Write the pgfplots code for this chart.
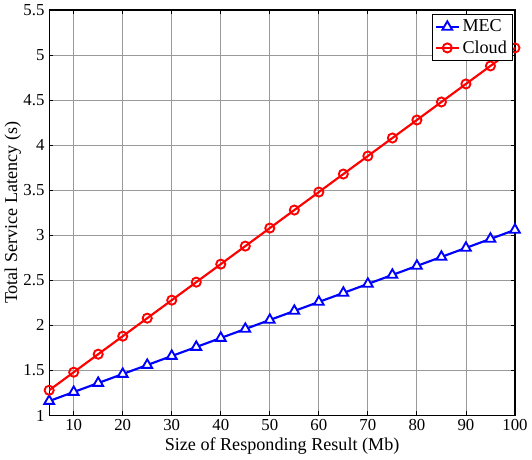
\documentclass[border=0pt]{standalone}
\usepackage{fontspec}
\setmainfont{Liberation Serif}
\usepackage{pgfplots}
\pgfplotsset{compat=1.18}

\begin{document}
\begin{tikzpicture}
\begin{axis}[
  scale only axis,
  width=347pt, height=302pt,
  xmin=5, xmax=100, ymin=1, ymax=5.5,
  xtick={10,20,...,100},
  ytick={1,1.5,...,5.5},
  yticklabels={1,1.5,2,2.5,3,3.5,4,4.5,5,5.5},
  grid=major, grid style={gray!80, line width=0.6pt},
  axis line style={line width=0.9pt},
  tick style={black, line width=0.6pt},
  tick align=inside, major tick length=3pt,
  xtick pos=both, ytick pos=both,
  /pgf/number format/assume math mode=true,
  tick label style={font=\fontsize{12.5}{14}\selectfont},
  xticklabel style={yshift=1pt},
  label style={font=\fontsize{13.5}{15}\selectfont},
  xlabel={Size of Responding Result (Mb)},
  ylabel={Total Service Latency (s)},
  xlabel style={yshift=1pt},
  ylabel style={yshift=-5pt},
  legend style={at={(0.995,0.99)}, anchor=north east, draw=black,
    line width=0.6pt, font=\fontsize{13.5}{15}\selectfont,
    inner sep=2pt, row sep=1pt},
  legend cell align=left,
]
\addplot[blue, line width=1.6pt, mark=triangle*, mark size=4.2pt,
  mark options={fill=white, line width=1.4pt}] coordinates {
  (5,1.16)(10,1.26)(15,1.36)(20,1.46)(25,1.56)(30,1.66)(35,1.76)
  (40,1.86)(45,1.96)(50,2.06)(55,2.16)(60,2.26)(65,2.36)(70,2.46)
  (75,2.56)(80,2.66)(85,2.76)(90,2.86)(95,2.96)(100,3.06)};
\addplot[red, line width=1.6pt, mark=o, mark size=3.4pt,
  mark options={fill=white, line width=1.4pt}] coordinates {
  (5,1.28)(10,1.48)(15,1.68)(20,1.88)(25,2.08)(30,2.28)(35,2.48)
  (40,2.68)(45,2.88)(50,3.08)(55,3.28)(60,3.48)(65,3.68)(70,3.88)
  (75,4.08)(80,4.28)(85,4.48)(90,4.68)(95,4.88)(100,5.08)};
\legend{MEC, Cloud}
\end{axis}
\end{tikzpicture}
\end{document}
